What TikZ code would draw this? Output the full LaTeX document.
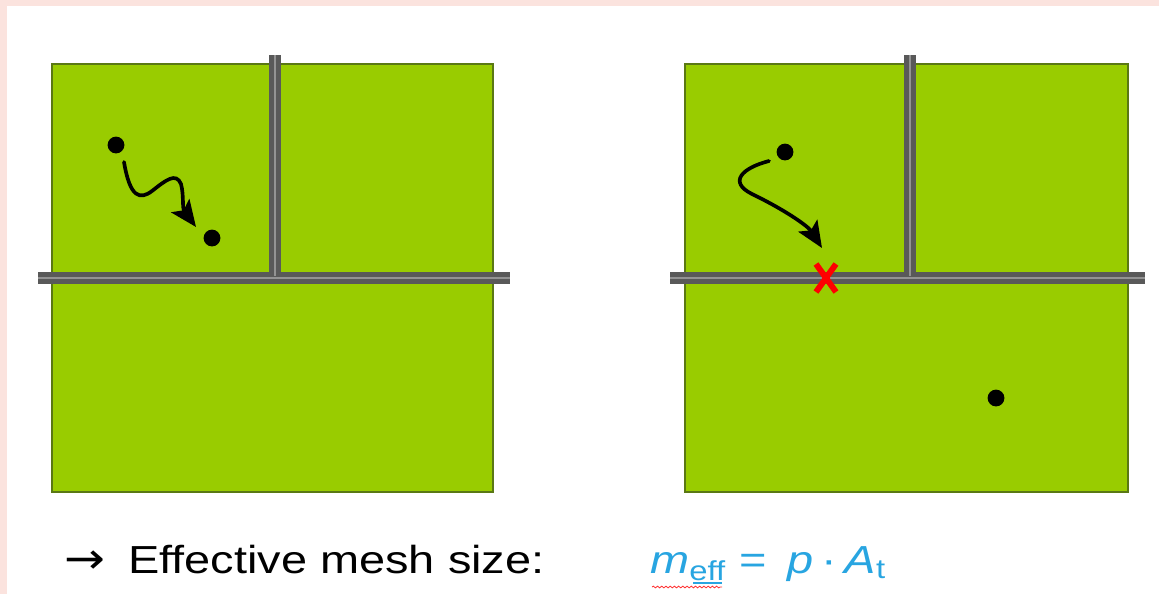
\documentclass[tikz,border=0pt]{standalone}
\usepackage{fontspec}
\setmainfont{Liberation Sans}
\newfontfamily\arrowfont{DejaVu Sans}
\usepackage{graphicx}
\usepackage{tikz}
\usetikzlibrary{arrows.meta, decorations.pathmorphing}

\definecolor{pinkbg}{RGB}{251,227,222}
\definecolor{meshgreen}{RGB}{153,204,0}
\definecolor{edgegreen}{RGB}{90,120,20}
\definecolor{formblue}{RGB}{40,165,225}

\begin{document}
\begin{tikzpicture}[x=0.025cm, y=-0.025cm,
      sq/.style={fill=meshgreen, draw=edgegreen, line width=1.2pt},
      cut/.style={draw=black!65, line width=3.4pt, double=gray!85, double distance=1.4pt},
      dot/.style={circle, fill=black, minimum size=0.42cm, inner sep=0pt},
      arr/.style={-{Stealth[length=0.66cm, width=0.56cm, inset=0.14cm]}, line width=2.6pt, line cap=round},
      lbl/.style={font=\fontsize{27.8}{32}\selectfont, inner sep=0pt, anchor=base west}]
      % frame
      \fill[pinkbg] (0,0) rectangle (1159,594);
      \fill[white] (7,6) rectangle (1159,594);
      \useasboundingbox (0,0) rectangle (1159,594);
      % left mesh
      \draw[sq] (52,64) rectangle (493,492);
      \draw[cut] (38,278) -- (510,278);
      \draw[cut] (275,55) -- (275,276);
      \node[dot] (a) at (116,145) {};
      \node[dot] (b) at (212,238) {};
      \draw[arr] (a) ++(8,17) .. controls (130,198) and (140,200) .. (152,191)
            .. controls (166,180) and (176,172) .. (181,184)
            .. controls (184,195) and (182,208) .. (196,227);
      % right mesh
      \draw[sq] (685,64) rectangle (1128,492);
      \draw[cut] (670,278) -- (1145,278);
      \draw[cut] (910,55) -- (910,276);
      \node[dot] (c) at (785,152) {};
      \node[dot] (d) at (996,398) {};
      \coordinate (hit) at (826,278);
      \draw[arr] (c) ++(-16,9) .. controls (742,168) and (728,182) .. (752,194)
            .. controls (785,210) and (808,226) .. (822,248);
      \draw[red, line width=4.2pt] (hit) ++(-10,-14) -- ++(20,28);
      \draw[red, line width=4.2pt] (hit) ++(10,-14) -- ++(-20,28);
      % caption
      \node[lbl] (arrow) at (64,573) {\scalebox{1.25}[1.1]{\arrowfont →}};
      \node[lbl] (txt) at (128,573) {\scalebox{1.2}[1]{Effective mesh size:}};
      \node[lbl, text=formblue] (form) at (650,573)
            {\scalebox{1.2}[1]{\textit{m}\textsubscript{eff} =\, \textit{p}\,·\,\textit{A}\textsubscript{t}}};
      \draw[formblue, line width=0.8pt] (693,583) -- (722,583);
      \draw[red!80, line width=0.6pt, decorate, decoration={snake, amplitude=0.6pt, segment length=3pt}]
            (652,587) -- (722,587);
    \end{tikzpicture}
\end{document}
